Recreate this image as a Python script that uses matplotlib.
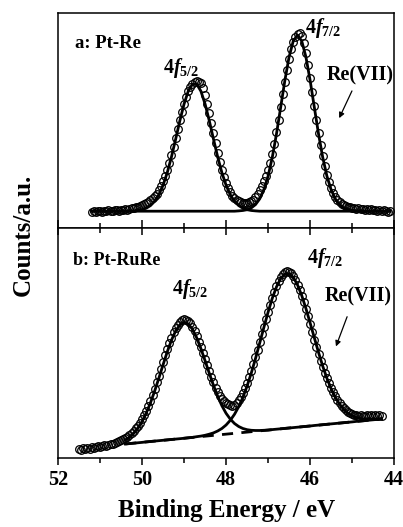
import numpy as np
import matplotlib
matplotlib.use("Agg")
import matplotlib.pyplot as plt
from matplotlib.ticker import MultipleLocator

plt.rcParams['font.family'] = 'Liberation Serif'
plt.rcParams['font.weight'] = 'bold'
plt.rcParams['mathtext.fontset'] = 'custom'
plt.rcParams['mathtext.rm'] = 'Liberation Serif:bold'
plt.rcParams['mathtext.bf'] = 'Liberation Serif:bold'
plt.rcParams['mathtext.it'] = 'Liberation Serif:italic:bold'

# ---- panel a: Pt-Re (scan 51.2 -> 44.1 eV, step 0.05) ----
scan_a = (51.2, 44.1)
counts_a = [
    -1, 0, -1, 0, 0, -1, 0, 0, 1, 0,
    0, 1, 1, 0, 1, 1, 2, 1, 2, 3,
    3, 4, 4, 5, 6, 7, 8, 9, 11, 13,
    15, 17, 21, 25, 30, 35, 41, 48, 56, 64,
    73, 82, 91, 99, 107, 114, 120, 124, 127, 129,
    130, 129, 128, 123, 116, 107, 98, 88, 78, 68,
    58, 49, 41, 34, 28, 23, 19, 15, 13, 11,
    10, 9, 8, 8, 8, 9, 10, 11, 14, 17,
    21, 25, 30, 35, 41, 48, 57, 67, 79, 91,
    104, 117, 129, 141, 152, 162, 169, 174, 177, 178,
    175, 168, 158, 146, 133, 119, 105, 91, 78, 66,
    55, 45, 36, 29, 23, 18, 14, 11, 9, 7,
    6, 5, 4, 4, 3, 3, 2, 3, 2, 2,
    1, 2, 1, 2, 1, 1, 0, 1, 0, 1,
    0, -1, 0,
]
# fitted components, 51.2 -> 44.1 eV, step 0.1
fit_a = (51.2, 44.1)
peak52_a = [
    0, 0, 0, 0, 0, 0, 0, 0, 0, 0,
    0.3, 0.7, 1.5, 3.0, 5.6, 9.9, 16.5, 26.0, 38.6, 54.3,
    72.1, 90.5, 107.2, 120.1, 127.1, 127.1, 120.1, 107.2, 90.5, 72.1,
    54.3, 38.6, 26.0, 16.5, 9.9, 5.6, 3.0, 1.5, 0.7, 0.3,
    0, 0, 0, 0, 0, 0, 0, 0, 0, 0,
    0, 0, 0, 0, 0, 0, 0, 0, 0, 0,
    0, 0, 0, 0, 0, 0, 0, 0, 0, 0,
    0, 0,
]
peak72_a = [
    0, 0, 0, 0, 0, 0, 0, 0, 0, 0,
    0, 0, 0, 0, 0, 0, 0, 0, 0, 0,
    0, 0, 0, 0, 0, 0, 0, 0, 0, 0,
    0, 0, 0, 0, 0,
    0.3, 0.7, 1.5, 3.3, 6.6, 12.3, 21.5, 35.1, 53.9, 77.4,
    104.0, 130.9, 154.3, 170.3, 176.0, 170.3, 154.3, 130.9, 104.0, 77.4,
    53.9, 35.1, 21.5, 12.3, 6.6, 3.3, 1.5, 0.7, 0.3,
    0, 0, 0, 0, 0, 0, 0, 0,
]

# ---- panel b: Pt-RuRe (scan 51.5 -> 44.3 eV, step 0.05) ----
scan_b = (51.5, 44.3)
counts_b = [
    9, 8, 10, 9, 10, 9, 11, 10, 11, 12,
    11, 12, 13, 12, 13, 14, 14, 15, 16, 17,
    18, 19, 20, 21, 23, 25, 27, 30, 32, 35,
    39, 43, 47, 52, 57, 63, 69, 76, 82, 89,
    96, 103, 109, 115, 120, 126, 130, 133, 136, 138,
    139, 138, 137, 135, 131, 127, 122, 116, 111, 105,
    99, 93, 87, 81, 76, 70, 66, 62, 59, 57,
    55, 54, 53, 52, 53, 55, 58, 61, 65, 70,
    75, 81, 87, 94, 101, 108, 116, 124, 131, 139,
    146, 153, 160, 166, 172, 177, 181, 184, 186, 187,
    186, 185, 182, 178, 173, 168, 162, 156, 149, 142,
    134, 126, 118, 111, 104, 97, 91, 85, 80, 75,
    70, 66, 62, 58, 55, 52, 50, 48, 46, 45,
    44, 43, 43, 42, 43, 42, 42, 43, 42, 43,
    42, 43, 42, 43, 42,
]
fit_b = (50.4, 44.3)
peak52_b = [
    18.0, 20.8, 24.6, 29.8, 36.5, 45.0, 55.2, 67.0, 79.9, 93.3,
    106.3, 117.9, 127.2, 133.3, 135.7, 134.2, 128.9, 120.4, 109.6, 97.4,
    84.8, 72.7, 61.7, 52.3, 44.7, 38.9, 34.5, 31.5, 29.5, 28.3,
    27.7, 27.5, 27.5, 27.7, 27.9, 28.4, 28.8, 29.2, 29.6, 30.0,
    30.4, 30.8, 31.2, 31.6, 32.0, 32.5, 32.9, 33.3, 33.7, 34.1,
    34.5, 34.9, 35.3, 35.7, 36.1, 36.6, 37.0, 37.4, 37.8, 38.2,
    38.6, 39.0,
]
peak72_b = [
    14.0, 14.4, 14.8, 15.2, 15.6, 16.1, 16.5, 16.9, 17.3, 17.7,
    18.1, 18.5, 18.9, 19.3, 19.7, 20.2, 20.6, 21.3, 21.9, 22.7,
    23.8, 25.1, 27.0, 29.5, 33.0, 37.7, 43.7, 51.3, 60.7, 72.0,
    85.0, 99.5, 115.0, 130.7, 146.0, 159.9, 171.3, 179.6, 184.1, 184.5,
    180.8, 173.3, 162.7, 149.7, 135.2, 120.4, 105.7, 92.0, 79.8, 69.3,
    60.7, 53.9, 48.7, 44.9, 42.2, 40.6, 39.5, 39.0, 38.7, 38.7,
    38.9, 39.2,
]
base_b_E = [50.4, 44.3]
base_b = [14.0, 39.0]

fig = plt.figure(figsize=(4.03, 5.27), dpi=100)
ax1 = fig.add_axes([0.144, 0.567, 0.834, 0.408])
ax2 = fig.add_axes([0.144, 0.131, 0.834, 0.436])

lw_fit = 2.0
mk = dict(ls='none', marker='o', ms=5.5, mfc='none', mec='k', mew=0.9)

ea = np.linspace(scan_a[0], scan_a[1], len(counts_a))
fa = np.linspace(fit_a[0], fit_a[1], len(peak52_a))
ax1.plot(fa, peak52_a, 'k-', lw=lw_fit)
ax1.plot(fa, peak72_a, 'k-', lw=lw_fit)
ax1.plot(ea, counts_a, **mk)
ax1.set_ylim(-17, 198)

eb = np.linspace(scan_b[0], scan_b[1], len(counts_b))
fb = np.linspace(fit_b[0], fit_b[1], len(peak52_b))
ax2.plot(base_b_E, base_b, 'k--', lw=lw_fit, dashes=(4, 3), zorder=1)
ax2.plot(fb, peak52_b, 'k-', lw=lw_fit, zorder=2)
ax2.plot(fb, peak72_b, 'k-', lw=lw_fit, zorder=2)
ax2.plot(eb, counts_b, **mk)
ax2.set_ylim(0, 230)

for ax in (ax1, ax2):
    ax.set_xlim(52, 44)
    ax.xaxis.set_major_locator(MultipleLocator(2))
    ax.xaxis.set_minor_locator(MultipleLocator(1))
    ax.set_yticks([])
    for s in ax.spines.values():
        s.set_linewidth(1.1)

ax1.tick_params(axis='x', which='both', direction='in', bottom=True, top=False,
                labelbottom=False, width=1.1)
ax1.tick_params(axis='x', which='major', length=6)
ax1.tick_params(axis='x', which='minor', length=3.5)
ax2.tick_params(axis='x', which='both', top=True, bottom=True, width=1.1)
ax2.tick_params(axis='x', which='major', length=5, labelsize=14.5, pad=4)
ax2.tick_params(axis='x', which='minor', length=3.5)
# bottom ticks point out, top ticks point in
for t in ax2.xaxis.get_major_ticks() + ax2.xaxis.get_minor_ticks():
    t.tick1line.set_marker(matplotlib.lines.TICKDOWN)
    t.tick2line.set_marker(matplotlib.lines.TICKDOWN)

# labels
ax1.text(0.05, 0.86, 'a: Pt-Re', transform=ax1.transAxes, fontsize=13.5,
         ha='left', va='center')
ax1.text(0.365, 0.745, r'$\mathrm{4}\mathit{f}_{\mathrm{5/2}}$', transform=ax1.transAxes,
         fontsize=14.5, ha='center', va='center')
ax1.text(0.79, 0.93, r'$\mathrm{4}\mathit{f}_{\mathrm{7/2}}$', transform=ax1.transAxes,
         fontsize=14.5, ha='center', va='center')
ax1.text(0.9, 0.712, 'Re(VII)', transform=ax1.transAxes, fontsize=14.5,
         ha='center', va='center')
ax1.annotate('', xy=(0.833, 0.5), xytext=(0.878, 0.65), xycoords='axes fraction',
             arrowprops=dict(arrowstyle='-|>', lw=0.9, color='k', mutation_scale=8))

ax2.text(0.045, 0.861, 'b: Pt-RuRe', transform=ax2.transAxes, fontsize=13,
         ha='left', va='center')
ax2.text(0.393, 0.735, r'$\mathrm{4}\mathit{f}_{\mathrm{5/2}}$', transform=ax2.transAxes,
         fontsize=14.5, ha='center', va='center')
ax2.text(0.795, 0.87, r'$\mathrm{4}\mathit{f}_{\mathrm{7/2}}$', transform=ax2.transAxes,
         fontsize=14.5, ha='center', va='center')
ax2.text(0.893, 0.704, 'Re(VII)', transform=ax2.transAxes, fontsize=14.5,
         ha='center', va='center')
ax2.annotate('', xy=(0.824, 0.474), xytext=(0.863, 0.626), xycoords='axes fraction',
             arrowprops=dict(arrowstyle='-|>', lw=0.9, color='k', mutation_scale=8))

fig.text(0.561, 0.032, 'Binding Energy / eV', fontsize=18, ha='center', va='center')
fig.text(0.057, 0.554, 'Counts/a.u.', fontsize=18, rotation=90, ha='center', va='center')

fig.savefig('out.png', dpi=100)
